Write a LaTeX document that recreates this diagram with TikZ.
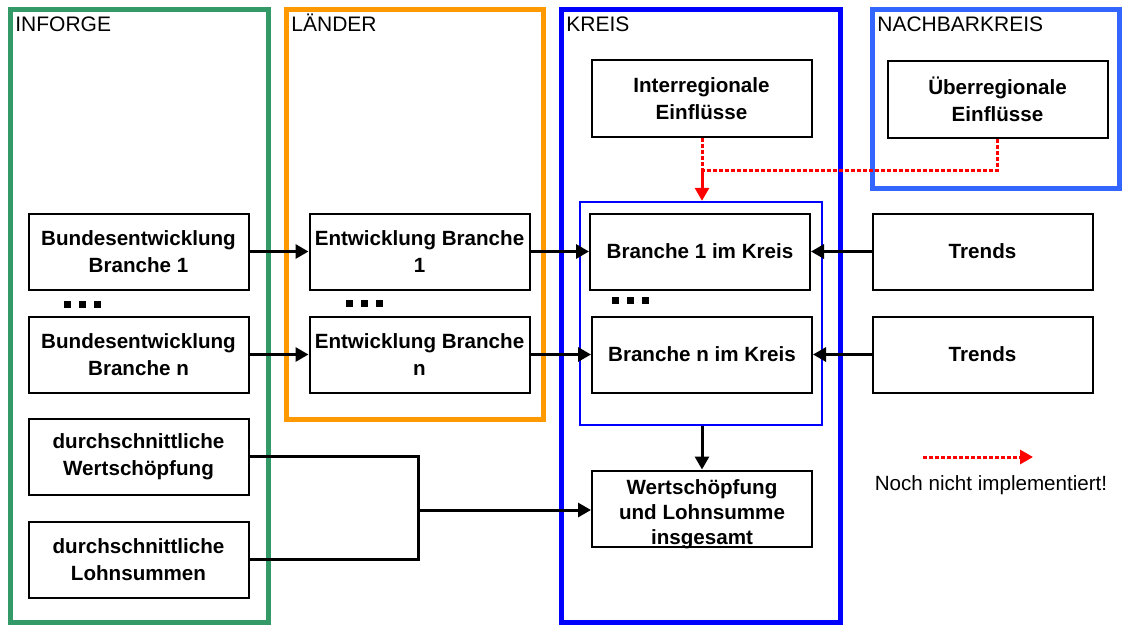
\documentclass[tikz,border=0pt]{standalone}
\usepackage{fontspec}
\setmainfont{Liberation Sans}
\usepackage{tikz}
\usetikzlibrary{arrows.meta}

\definecolor{inforgegreen}{RGB}{51,153,102}
\definecolor{laenderorange}{RGB}{255,153,0}
\definecolor{nachbarblue}{RGB}{51,102,255}

\tikzset{
	box/.style={draw, line width=1pt, fill=white, minimum width=110pt, minimum height=38pt, align=center, inner sep=1pt, font=\bfseries\fontsize{10.3}{13.5}\selectfont},
	frame/.style={line width=2.5pt},
	titel/.style={anchor=base west, inner sep=0pt, font=\fontsize{10.5}{12}\selectfont},
	spitze/.style={-{Triangle[length=6.5pt,width=7pt]}},
	pfeil/.style={line width=1.5pt, spitze},
	geplant/.style={red, line width=1.5pt, dash pattern=on 2pt off 1pt}
}

\begin{document}
\begin{tikzpicture}[x=0.5pt,y=-0.5pt]
	\useasboundingbox (0,0) rectangle (1122,626);
	% Rahmen
	\draw[frame, inforgegreen] (10.5,9.5) rectangle (268.5,622);
	\draw[frame, laenderorange] (286,9.5) rectangle (543,419);
	\draw[frame, blue] (561.5,9.5) rectangle (840,622);
	\draw[frame, nachbarblue] (872,9.5) rectangle (1119,188.5);
	\node[titel] at (15,32) {INFORGE};
	\node[titel] at (291,32) {LÄNDER};
	\node[titel] at (566,32) {KREIS};
	\node[titel] at (877,32) {NACHBARKREIS};

	% Boxen
	\node[box] (bund1) at (138.5,251.5) {Bundesentwicklung\\Branche 1};
	\node[box] (bundn) at (138.5,354.5) {Bundesentwicklung\\Branche n};
	\node[box] (dws) at (138.5,456.5) {durchschnittliche\\Wertschöpfung};
	\node[box] (dls) at (138.5,559.5) {durchschnittliche\\Lohnsummen};
	\node[box] (entw1) at (419.5,251.5) {Entwicklung Branche\\1};
	\node[box] (entwn) at (419.5,354.5) {Entwicklung Branche\\n};
	\node[box] (inter) at (701.5,98.5) {Interregionale\\Einflüsse};
	\node[box] (ueber) at (997.5,99.5) {Überregionale\\Einflüsse};
	\node[draw=blue, line width=1.2pt, minimum width=121pt, minimum height=111.5pt] (kreisbox) at (701,313.5) {};
	\node[box] (kr1) at (700,251.5) {Branche 1 im Kreis};
	\node[box] (krn) at (702,354.5) {Branche n im Kreis};
	\node[box] (trend1) at (982.5,251.5) {Trends};
	\node[box] (trendn) at (982.5,354.5) {Trends};
	\node[align=center, inner sep=0pt, font=\bfseries\fontsize{10.3}{12.5}\selectfont] (werttext) at (702,514) {Wertschöpfung\\und Lohnsumme\\insgesamt};
	\node[box, fill=none] (wert) at (702,508.5) {};

	% Punkte
	\foreach \x in {64,79,94} \fill (\x,301) rectangle +(7,7);
	\foreach \x in {346,361,376} \fill (\x,300) rectangle +(7,7);
	\foreach \x in {612,627,642} \fill (\x,297) rectangle +(7,7);

	% Verbindungen
	\begin{scope}[pfeil]
		\draw (bund1) -- (entw1);
		\draw (bundn) -- (entwn);
		\draw (entw1) -- (kr1);
		\draw (entwn.east) -- (krn.west);
		\draw (trend1) -- (kr1);
		\draw (trendn) -- (krn);
		\draw (wert.north |- kreisbox.south) -- (wert.north);
	\end{scope}
	\coordinate (join) at (418,510);
	\draw[line width=1.5pt] (dws.east) -| (join) |- (dls.east);
	\draw[pfeil] (join) -- (join -| wert.west);

	% noch nicht implementiert
	\coordinate (knick) at (702,170);
	\draw[geplant] (inter.south -| knick) -- (knick);
	\draw[geplant] (ueber.south) |- (knick);
	\draw[pfeil, red] (knick) -- (knick |- kreisbox.north);
	\coordinate (legA) at (923,457);
	\coordinate (legB) at (1033,457);
	\draw[geplant, spitze] (legA) -- (legB);
	\node[font=\fontsize{10.3}{12}\selectfont] (legtext) at (991,485) {Noch nicht implementiert!};
\end{tikzpicture}
\end{document}
